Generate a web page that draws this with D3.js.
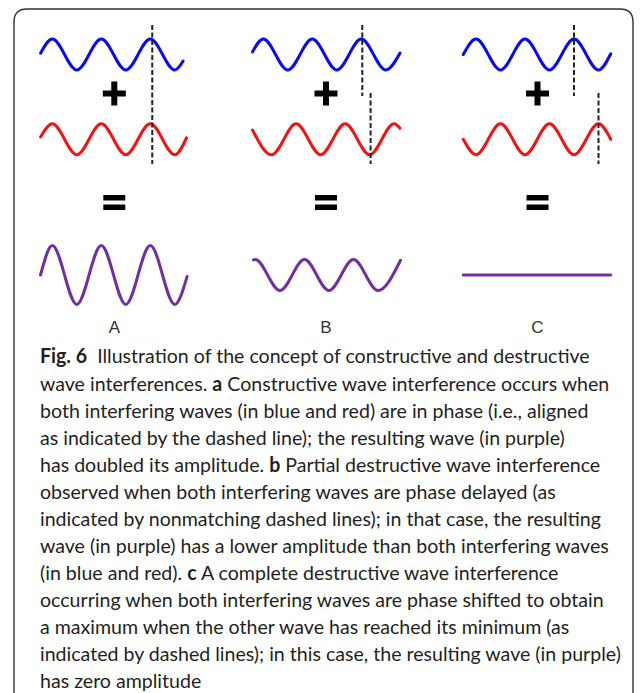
<!DOCTYPE html>
<html>
<head>
<meta charset="utf-8">
<script src="https://cdn.jsdelivr.net/npm/d3@7"></script>
<style>
  html, body { margin: 0; padding: 0; background: #fff; }
  svg { display: block; }
</style>
</head>
<body>
<svg id="chart" width="640" height="693"></svg>
<script>
// ---------------- DATA ----------------
// panel labels
const panelLabels = ["A", "B", "C"];

// wave points: [phase in cycles (0 = first blue crest), amplitude in units]
const blueA = [[-0.24, 0.08], [0, 1], [0.5, -1], [1, 1], [1.5, -1], [2, 1], [2.5, -1], [2.67, -0.42]];
const blueB = [[-0.22, 0.17], [0, 1], [0.5, -1], [1, 1], [1.5, -1], [2, 1], [2.5, -1], [2.79, 0.1]];
const blueC = [[-0.26, 0.0], [0, 1], [0.5, -1], [1, 1], [1.5, -1], [2, 1], [2.5, -1], [2.75, 0.05]];

const redA = [[-0.24, 0.15], [0, 1], [0.5, -1], [1, 1], [1.5, -1], [2, 1], [2.5, -1], [2.74, 0.1]];
const redB = [[-0.22, 0.6], [0.17, -1], [0.67, 1], [1.17, -1], [1.67, 1], [2.17, -1], [2.67, 1], [2.79, 0.72]];
const redC = [[-0.26, 0.0], [0, -1], [0.5, 1], [1, -1], [1.5, 1], [2, -1], [2.5, 1], [2.75, 0.0]];

const purpleA = [[-0.24, 0.0], [0, 1.9], [0.5, -1.9], [1, 1.9], [1.5, -1.9], [2, 1.9], [2.5, -1.9], [2.75, -0.1]];
const purpleB = [[-0.2, 0.97], [-0.165, 1], [0.34, -1], [0.84, 1], [1.34, -1], [1.84, 1], [2.34, -1], [2.8, 0.95]];
const purpleC = [[-0.26, 0.0], [2.75, 0.0]];

// dashed alignment markers (phase in cycles) per panel
const dashBlue = [2.04, 2.02, 2.0];
const dashRed  = [2.04, 2.19, 2.5];

// caption lines: [text, bold]
const captionLines = [
  [["Fig. 6", true], ["  Illustration of the concept of constructive and destructive", false]],
  [["wave interferences. ", false], ["a", true], [" Constructive wave interference occurs when", false]],
  [["both interfering waves (in blue and red) are in phase (i.e., aligned", false]],
  [["as indicated by the dashed line); the resulting wave (in purple)", false]],
  [["has doubled its amplitude. ", false], ["b", true], [" Partial destructive wave interference", false]],
  [["observed when both interfering waves are phase delayed (as", false]],
  [["indicated by nonmatching dashed lines); in that case, the resulting", false]],
  [["wave (in purple) has a lower amplitude than both interfering waves", false]],
  [["(in blue and red). ", false], ["c", true], [" A complete destructive wave interference", false]],
  [["occurring when both interfering waves are phase shifted to obtain", false]],
  [["a maximum when the other wave has reached its minimum (as", false]],
  [["indicated by dashed lines); in this case, the resulting wave (in purple)", false]],
  [["has zero amplitude", false]]
];

// ---------------- LAYOUT ----------------
const panelOrigin = [52.3, 263.3, 476];   // x of first blue crest
const period = 49;                          // px per cycle
const unit = 15.5;                          // px per amplitude unit
const rowCenter = { blue: 54.5, red: 139.3, purple: 275 };
const plusY = 93.5, equalsY = 202.5;
const plusX = [114.3, 326, 537.5];
const labelY = 333;
const captionX = 40, captionY0 = 363.5, captionLH = 27.05;
// reference widths of the longest lines (used for one global width fit)
const fitLines = [0, 1, 2, 3, 11];
const fitWidths = [550, 564, 552, 532, 570];

const colors = { blue: "#0a0aee", red: "#f01414", purple: "#7030a0" };

const svg = d3.select("#chart");

// frame
svg.append("path")
  .attr("d", "M14,700 L14,22 Q14,9 27,9 L620,9 Q633,9 633,22 L633,700")
  .attr("fill", "none").attr("stroke", "#333").attr("stroke-width", 1.4);

const waves = {
  blue: [blueA, blueB, blueC],
  red: [redA, redB, redC],
  purple: [purpleA, purpleB, purpleC]
};

panelLabels.forEach((lab, i) => {
  const x = d3.scaleLinear().domain([0, 1]).range([panelOrigin[i], panelOrigin[i] + period]);
  const g = svg.append("g");

  Object.keys(waves).forEach(k => {
    const c = rowCenter[k];
    const y = d3.scaleLinear().domain([-1, 1]).range([c + unit, c - unit]);
    const line = d3.line().x(d => x(d[0])).y(d => y(d[1])).curve(d3.curveMonotoneX);
    g.append("path")
      .attr("d", line(waves[k][i]))
      .attr("fill", "none")
      .attr("stroke", colors[k])
      .attr("stroke-width", 3)
      .attr("stroke-linecap", "round")
      .attr("stroke-linejoin", "round");
  });

  // dashed markers
  const dashAttrs = sel => sel.attr("stroke", "#222").attr("stroke-width", 2).attr("stroke-dasharray", "5,2.5");
  if (dashBlue[i] === dashRed[i]) {
    g.append("line").attr("x1", x(dashBlue[i])).attr("x2", x(dashBlue[i]))
      .attr("y1", 25).attr("y2", 164).call(dashAttrs);
  } else {
    g.append("line").attr("x1", x(dashBlue[i])).attr("x2", x(dashBlue[i]))
      .attr("y1", 25).attr("y2", 96).call(dashAttrs);
    g.append("line").attr("x1", x(dashRed[i])).attr("x2", x(dashRed[i]))
      .attr("y1", 93).attr("y2", 164).call(dashAttrs);
  }

  // plus sign
  const px = plusX[i];
  g.append("rect").attr("x", px - 11.5).attr("y", plusY - 3).attr("width", 23).attr("height", 6).attr("fill", "#000");
  g.append("rect").attr("x", px - 3).attr("y", plusY - 12).attr("width", 6).attr("height", 24).attr("fill", "#000");
  // equals sign
  g.append("rect").attr("x", px - 11).attr("y", equalsY - 7.5).attr("width", 22).attr("height", 5.5).attr("fill", "#000");
  g.append("rect").attr("x", px - 11).attr("y", equalsY + 2).attr("width", 22).attr("height", 5.5).attr("fill", "#000");

  // label
  g.append("text").attr("x", px).attr("y", labelY)
    .attr("text-anchor", "middle")
    .attr("font-family", "Liberation Sans, Arial, sans-serif")
    .attr("font-size", 17).attr("fill", "#333")
    .text(lab);
});

// caption
const cap = svg.append("g")
  .attr("font-family", "Lato, 'Open Sans', sans-serif")
  .attr("font-size", 20)
  .attr("fill", "#231f20");

const texts = captionLines.map((segs, i) => {
  const t = cap.append("text")
    .attr("x", 0)
    .attr("y", captionY0 + i * captionLH)
    .attr("xml:space", "preserve")
    .style("white-space", "pre");
  segs.forEach(([s, b]) => {
    t.append("tspan").attr("font-weight", b ? 700 : 400).text(s);
  });
  return t;
});

// one global horizontal scale so the long lines match the reference widths
const ratios = fitLines.map((li, j) => fitWidths[j] / texts[li].node().getComputedTextLength());
const k = Math.min(1.15, Math.max(0.85, d3.median(ratios)));
cap.attr("transform", `translate(${captionX},0) scale(${k},1)`);
</script>
</body>
</html>
